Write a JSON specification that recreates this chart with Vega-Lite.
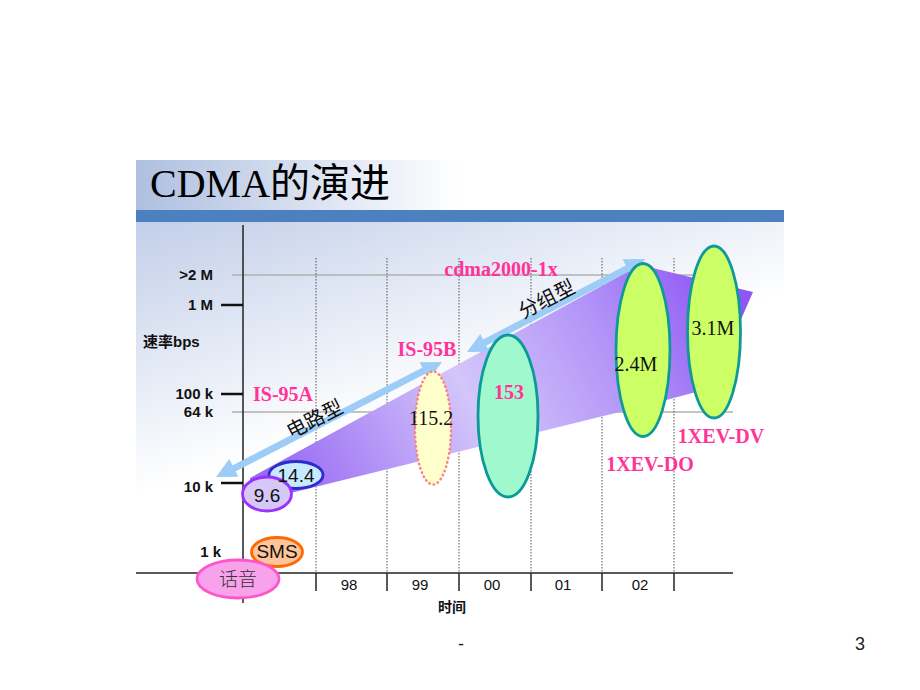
{
  "$schema": "https://vega.github.io/schema/vega-lite/v6.json",
  "width": 920,
  "height": 690,
  "autosize": {"type": "fit", "contains": "padding"},
  "padding": 0,
  "background": "#ffffff",
  "config": {"view": {"stroke": null}},
  "datasets": {
    "chartbg": [{"x": 136, "x2": 784, "y": 222, "y2": 617}],
    "titlebg": [{"x": 136, "x2": 784, "y": 160, "y2": 210}],
    "bar": [{"x": 136, "x2": 784, "y": 210, "y2": 222}],
    "hlines": [
      {"level": ">2 M", "x": 232, "x2": 733, "y": 275},
      {"level": "64 k", "x": 232, "x2": 733, "y": 412}
    ],
    "grid": [
      {"year": "98", "x": 316, "y": 258, "y2": 573},
      {"year": "99", "x": 387, "y": 258, "y2": 573},
      {"year": "00", "x": 459, "y": 258, "y2": 573},
      {"year": "01", "x": 531, "y": 258, "y2": 573},
      {"year": "02", "x": 602, "y": 258, "y2": 573},
      {"year": "03", "x": 674, "y": 258, "y2": 573}
    ],
    "ticks": [
      {"x": 316, "y": 573, "y2": 591},
      {"x": 387, "y": 573, "y2": 591},
      {"x": 459, "y": 573, "y2": 591},
      {"x": 531, "y": 573, "y2": 591},
      {"x": 602, "y": 573, "y2": 591},
      {"x": 674, "y": 573, "y2": 591}
    ],
    "xaxis": [{"x": 136, "x2": 733, "y": 573}],
    "yaxis": [{"x": 243, "y": 225, "y2": 603}],
    "yticks": [
      {"level": "1 M", "x": 221, "x2": 243, "y": 305},
      {"level": "100 k", "x": 221, "x2": 243, "y": 394},
      {"level": "10 k", "x": 221, "x2": 243, "y": 483}
    ],
    "wedge": [
      {"x": 250, "y": 478, "y2": 503},
      {"x": 640, "y": 265, "y2": 407},
      {"x": 711, "y": 282, "y2": 388},
      {"x": 753, "y": 292, "y2": 292}
    ],
    "arrows": [
      {"arrow": "电路型", "x": 227, "y": 472, "x2": 431, "y2": 367},
      {"arrow": "分组型", "x": 478, "y": 346, "x2": 634, "y2": 265}
    ],
    "headsUp": [
      {"arrow": "电路型", "x": 442, "y": 362},
      {"arrow": "分组型", "x": 645, "y": 259}
    ],
    "headsDown": [
      {"arrow": "电路型", "x": 216, "y": 477},
      {"arrow": "分组型", "x": 467, "y": 352}
    ],
    "ellipses": [
      {"name": "SMS", "x": 277, "y": 552},
      {"name": "话音", "x": 238, "y": 579},
      {"name": "14.4", "x": 296, "y": 475},
      {"name": "9.6", "x": 267, "y": 494},
      {"name": "153", "x": 508, "y": 416},
      {"name": "2.4M", "x": 643, "y": 350},
      {"name": "3.1M", "x": 714, "y": 332}
    ],
    "dotted": [
      {"name": "115.2", "x": 433, "y": 428}
    ],
    "texts": [
      {"kind": "title", "text": "CDMA的演进", "x": 150, "y": 197},
      {"kind": "ylab", "text": ">2 M", "x": 213, "y": 275},
      {"kind": "ylab", "text": "1 M", "x": 213, "y": 305},
      {"kind": "ylab", "text": "100 k", "x": 213, "y": 394},
      {"kind": "ylab", "text": "64 k", "x": 213, "y": 412},
      {"kind": "ylab", "text": "10 k", "x": 213, "y": 487},
      {"kind": "ylab", "text": "1 k", "x": 221, "y": 552},
      {"kind": "ytitle", "text": "速率bps", "x": 143, "y": 342},
      {"kind": "xlab", "text": "98", "x": 349, "y": 585},
      {"kind": "xlab", "text": "99", "x": 420, "y": 585},
      {"kind": "xlab", "text": "00", "x": 492, "y": 585},
      {"kind": "xlab", "text": "01", "x": 563, "y": 585},
      {"kind": "xlab", "text": "02", "x": 640, "y": 585},
      {"kind": "xtitle", "text": "时间", "x": 452, "y": 608},
      {"kind": "pink", "text": "IS-95A", "x": 283, "y": 395},
      {"kind": "pink", "text": "IS-95B", "x": 427, "y": 350},
      {"kind": "pink", "text": "cdma2000-1x", "x": 501, "y": 270},
      {"kind": "pink", "text": "1XEV-DO", "x": 650, "y": 465},
      {"kind": "pink", "text": "1XEV-DV", "x": 721, "y": 437},
      {"kind": "pink", "text": "153", "x": 509, "y": 393},
      {"kind": "sans", "text": "SMS", "x": 277, "y": 552},
      {"kind": "sans", "text": "9.6", "x": 267, "y": 496},
      {"kind": "sans", "text": "14.4", "x": 296, "y": 476},
      {"kind": "serif", "text": "115.2", "x": 431, "y": 419},
      {"kind": "serif", "text": "2.4M", "x": 636, "y": 365},
      {"kind": "serif", "text": "3.1M", "x": 713, "y": 329},
      {"kind": "cjk", "text": "话音", "x": 238, "y": 580},
      {"kind": "rot", "text": "电路型", "x": 315, "y": 420},
      {"kind": "rot", "text": "分组型", "x": 547, "y": 300},
      {"kind": "page", "text": "-", "x": 461, "y": 645},
      {"kind": "page", "text": "3", "x": 860, "y": 645}
    ]
  },
  "encoding": {
    "x": {"field": "x", "type": "quantitative", "scale": {"domain": [0, 920], "nice": false, "zero": false}, "axis": null},
    "y": {"field": "y", "type": "quantitative", "scale": {"domain": [0, 690], "nice": false, "zero": false, "reverse": true}, "axis": null}
  },
  "layer": [
    {
      "data": {"name": "chartbg"},
      "mark": {"type": "rect", "fill": {"gradient": "linear", "x1": 0, "y1": 0, "x2": 0.28, "y2": 0.55, "stops": [{"offset": 0, "color": "#c2cfe9"}, {"offset": 1, "color": "#ffffff"}]}},
      "encoding": {"x2": {"field": "x2"}, "y2": {"field": "y2"}}
    },
    {
      "data": {"name": "titlebg"},
      "mark": {"type": "rect", "fill": {"gradient": "linear", "x1": 0, "y1": 0, "x2": 0.5, "y2": 0, "stops": [{"offset": 0, "color": "#aebfe0"}, {"offset": 1, "color": "#ffffff"}]}},
      "encoding": {"x2": {"field": "x2"}, "y2": {"field": "y2"}}
    },
    {
      "data": {"name": "bar"},
      "mark": {"type": "rect", "fill": "#4d80bf"},
      "encoding": {"x2": {"field": "x2"}, "y2": {"field": "y2"}}
    },
    {
      "data": {"name": "hlines"},
      "mark": {"type": "rule", "stroke": "#b0b0b0", "strokeWidth": 1.5},
      "encoding": {"x2": {"field": "x2"}}
    },
    {
      "data": {"name": "grid"},
      "mark": {"type": "rule", "stroke": "#555555", "strokeWidth": 1, "strokeDash": [1.5, 1.5]},
      "encoding": {"y2": {"field": "y2"}}
    },
    {
      "data": {"name": "xaxis"},
      "mark": {"type": "rule", "stroke": "#5a5a5a", "strokeWidth": 2},
      "encoding": {"x2": {"field": "x2"}}
    },
    {
      "data": {"name": "ticks"},
      "mark": {"type": "rule", "stroke": "#222222", "strokeWidth": 1.5},
      "encoding": {"y2": {"field": "y2"}}
    },
    {
      "data": {"name": "yaxis"},
      "mark": {"type": "rule", "stroke": "#222222", "strokeWidth": 1.5},
      "encoding": {"y2": {"field": "y2"}}
    },
    {
      "data": {"name": "yticks"},
      "mark": {"type": "rule", "stroke": "#111111", "strokeWidth": 2.5},
      "encoding": {"x2": {"field": "x2"}}
    },
    {
      "data": {"name": "wedge"},
      "mark": {"type": "area", "opacity": 1, "color": {"gradient": "linear", "x1": 0, "y1": 0.6, "x2": 1, "y2": 0.35, "stops": [{"offset": 0, "color": "#9a6cf4"}, {"offset": 0.42, "color": "#d3c6fa"}, {"offset": 0.75, "color": "#b090f7"}, {"offset": 1, "color": "#8e56f4"}]}},
      "encoding": {"y2": {"field": "y2"}}
    },
    {
      "data": {"name": "arrows"},
      "mark": {"type": "rule", "stroke": "#9dccf6", "strokeWidth": 7, "strokeCap": "butt"},
      "encoding": {"x2": {"field": "x2"}, "y2": {"field": "y2"}}
    },
    {
      "data": {"name": "headsUp"},
      "mark": {"type": "point", "shape": "M0,0L10,20L-10,20Z", "size": 4, "filled": true, "opacity": 1, "color": "#9dccf6", "angle": 63}
    },
    {
      "data": {"name": "headsDown"},
      "mark": {"type": "point", "shape": "M0,0L10,20L-10,20Z", "size": 4, "filled": true, "opacity": 1, "color": "#9dccf6", "angle": 243}
    },
    {
      "data": {"name": "ellipses"},
      "mark": {"type": "point", "size": 4, "filled": true, "opacity": 1, "strokeWidth": 2.8},
      "encoding": {
        "shape": {"field": "name", "type": "nominal", "legend": null, "scale": {
          "domain": ["SMS", "话音", "14.4", "9.6", "153", "2.4M", "3.1M"],
          "range": [
            "M-25.5,0A25.5,14.5 0 1,0 25.5,0A25.5,14.5 0 1,0 -25.5,0Z",
            "M-41,0A41,19 0 1,0 41,0A41,19 0 1,0 -41,0Z",
            "M-27,0A27,13.5 0 1,0 27,0A27,13.5 0 1,0 -27,0Z",
            "M-24.5,0A24.5,17 0 1,0 24.5,0A24.5,17 0 1,0 -24.5,0Z",
            "M-30,0A30,81 0 1,0 30,0A30,81 0 1,0 -30,0Z",
            "M-27,0A27,86.5 0 1,0 27,0A27,86.5 0 1,0 -27,0Z",
            "M-26.5,0A26.5,86 0 1,0 26.5,0A26.5,86 0 1,0 -26.5,0Z"
          ]}},
        "fill": {"field": "name", "type": "nominal", "legend": null, "scale": {
          "domain": ["SMS", "话音", "14.4", "9.6", "153", "2.4M", "3.1M"],
          "range": ["#ffc49a", "#f8a2ec", "#c6eaff", "#d6c8f6", "#9ff9cc", "#ccff66", "#ccff66"]}},
        "stroke": {"field": "name", "type": "nominal", "legend": null, "scale": {
          "domain": ["SMS", "话音", "14.4", "9.6", "153", "2.4M", "3.1M"],
          "range": ["#ff6a00", "#ff55cc", "#2b2bd0", "#9b30ff", "#0b9a9a", "#10999a", "#10999a"]}}
      }
    },
    {
      "data": {"name": "dotted"},
      "mark": {"type": "point", "size": 4, "filled": true, "opacity": 1, "shape": "M-18,0A18,56.5 0 1,0 18,0A18,56.5 0 1,0 -18,0Z", "fill": "#ffffcc", "stroke": "#ff8080", "strokeWidth": 2.5, "strokeDash": [0.5, 4], "strokeCap": "round"}
    },
    {
      "data": {"name": "texts"},
      "transform": [{"filter": "datum.kind === 'title'"}],
      "mark": {"type": "text", "align": "left", "baseline": "alphabetic", "font": "Liberation Serif, Noto Sans CJK SC", "fontSize": 40, "fill": "#000000"},
      "encoding": {"text": {"field": "text"}}
    },
    {
      "data": {"name": "texts"},
      "transform": [{"filter": "datum.kind === 'ylab'"}],
      "mark": {"type": "text", "align": "right", "baseline": "middle", "font": "Liberation Sans", "fontWeight": "bold", "fontSize": 15, "fill": "#111111"},
      "encoding": {"text": {"field": "text"}}
    },
    {
      "data": {"name": "texts"},
      "transform": [{"filter": "datum.kind === 'ytitle'"}],
      "mark": {"type": "text", "align": "left", "baseline": "middle", "font": "Liberation Sans, Noto Sans CJK SC", "fontWeight": "bold", "fontSize": 15, "fill": "#111111"},
      "encoding": {"text": {"field": "text"}}
    },
    {
      "data": {"name": "texts"},
      "transform": [{"filter": "datum.kind === 'xlab'"}],
      "mark": {"type": "text", "align": "center", "baseline": "middle", "font": "Liberation Sans", "fontSize": 15, "fill": "#111111"},
      "encoding": {"text": {"field": "text"}}
    },
    {
      "data": {"name": "texts"},
      "transform": [{"filter": "datum.kind === 'xtitle'"}],
      "mark": {"type": "text", "align": "center", "baseline": "middle", "font": "Noto Sans CJK SC", "fontWeight": "bold", "fontSize": 14, "fill": "#111111"},
      "encoding": {"text": {"field": "text"}}
    },
    {
      "data": {"name": "texts"},
      "transform": [{"filter": "datum.kind === 'pink'"}],
      "mark": {"type": "text", "align": "center", "baseline": "middle", "font": "Liberation Serif", "fontWeight": "bold", "fontSize": 20, "fill": "#ff3399"},
      "encoding": {"text": {"field": "text"}}
    },
    {
      "data": {"name": "texts"},
      "transform": [{"filter": "datum.kind === 'sans'"}],
      "mark": {"type": "text", "align": "center", "baseline": "middle", "font": "Liberation Sans", "fontSize": 19, "fill": "#111111"},
      "encoding": {"text": {"field": "text"}}
    },
    {
      "data": {"name": "texts"},
      "transform": [{"filter": "datum.kind === 'serif'"}],
      "mark": {"type": "text", "align": "center", "baseline": "middle", "font": "Liberation Serif", "fontSize": 20, "fill": "#111111"},
      "encoding": {"text": {"field": "text"}}
    },
    {
      "data": {"name": "texts"},
      "transform": [{"filter": "datum.kind === 'cjk'"}],
      "mark": {"type": "text", "align": "center", "baseline": "middle", "font": "Noto Sans CJK SC", "fontWeight": 300, "fontSize": 19, "fill": "#333333"},
      "encoding": {"text": {"field": "text"}}
    },
    {
      "data": {"name": "texts"},
      "transform": [{"filter": "datum.kind === 'rot'"}],
      "mark": {"type": "text", "align": "center", "baseline": "middle", "font": "Noto Sans CJK SC", "fontSize": 20, "fill": "#111111", "angle": 333},
      "encoding": {"text": {"field": "text"}}
    },
    {
      "data": {"name": "texts"},
      "transform": [{"filter": "datum.kind === 'page'"}],
      "mark": {"type": "text", "align": "center", "baseline": "middle", "font": "Liberation Sans", "fontSize": 18, "fill": "#222222"},
      "encoding": {"text": {"field": "text"}}
    }
  ]
}
